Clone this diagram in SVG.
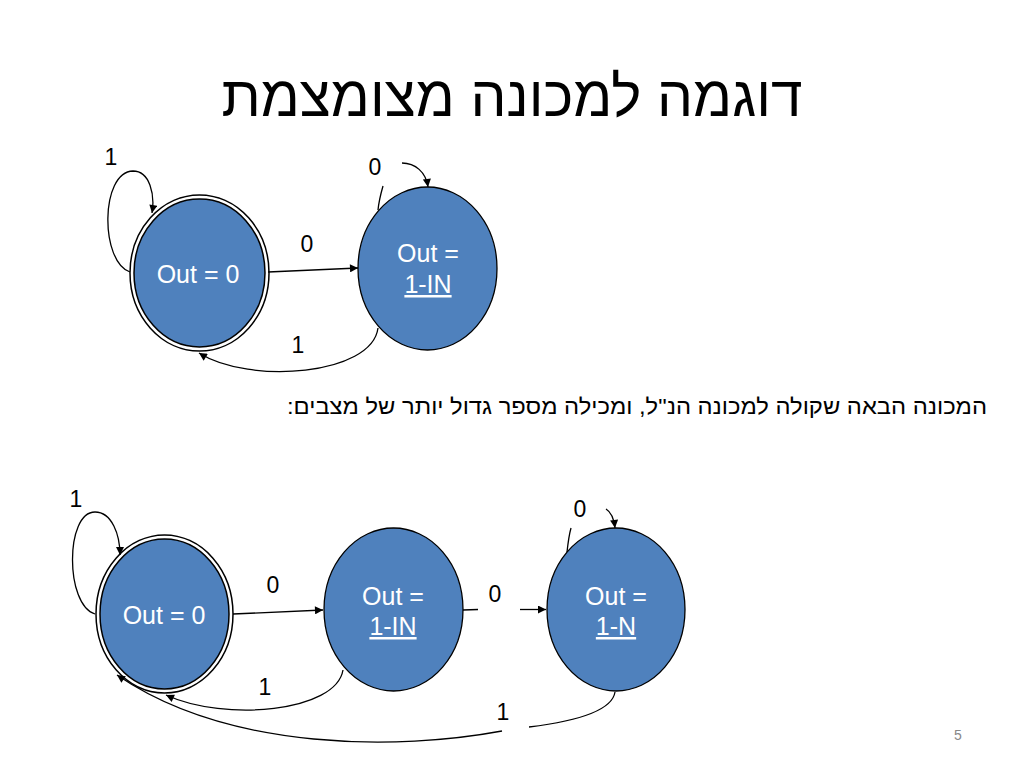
<svg xmlns="http://www.w3.org/2000/svg" width="1024" height="768" viewBox="0 0 1024 768">
<defs>
<style>
.st{fill:#4F81BD;stroke:#000;stroke-width:1.3}
.ring{fill:#fff;stroke:#000;stroke-width:1.5}
.in{fill:#4F81BD;stroke:#000;stroke-width:1.5}
.nt{font-family:"Liberation Sans",Arial,sans-serif;font-size:25px;fill:#fff;text-anchor:middle}
.u{text-decoration:underline}
.e{fill:none;stroke:#000;stroke-width:1.3}
.lb{font-family:"Liberation Sans",Arial,sans-serif;font-size:23px;fill:#000;text-anchor:middle}
.heb{font-family:"Liberation Sans","DejaVu Sans",Arial,sans-serif;fill:#000;text-anchor:middle}
</style>
<marker id="ah" viewBox="0 0 10 10" refX="10" refY="5" markerWidth="9" markerHeight="8" markerUnits="userSpaceOnUse" orient="auto">
<path d="M0,0 L10,5 L0,10 z" fill="#000"/>
</marker>
</defs>
<rect width="1024" height="768" fill="#fff"/>
<text class="heb" x="512" y="116" font-size="57" direction="rtl" textLength="581" lengthAdjust="spacingAndGlyphs">דוגמה למכונה מצומצמת</text>
<text class="heb" x="637" y="414" font-size="22.5" direction="rtl" textLength="700" lengthAdjust="spacingAndGlyphs">המכונה הבאה שקולה למכונה הנ"ל, ומכילה מספר גדול יותר של מצבים:</text>
<text x="958" y="740" font-family="Liberation Sans,Arial,sans-serif" font-size="14" fill="#888" text-anchor="middle">5</text>

<g id="top-s0">
<ellipse class="ring" cx="199.5" cy="273" rx="69.5" ry="78"/>
<ellipse class="in" cx="199.5" cy="273" rx="65.5" ry="74"/>
<text class="nt" x="198" y="283">Out = 0</text>
</g>
<g id="top-s1">
<ellipse class="st" cx="427.5" cy="268.5" rx="69.5" ry="81.5"/>
<text class="nt" x="428" y="262">Out =</text>
<text class="nt u" x="428" y="293">1-IN</text>
</g>

<g id="bot-s0">
<ellipse class="ring" cx="164.5" cy="614" rx="68.5" ry="79"/>
<ellipse class="in" cx="164.5" cy="614" rx="64.5" ry="75"/>
<text class="nt" x="164" y="624">Out = 0</text>
</g>
<g id="bot-s1">
<ellipse class="st" cx="393.5" cy="609.5" rx="69.5" ry="81.5"/>
<text class="nt" x="393" y="605">Out =</text>
<text class="nt u" x="393" y="635">1-IN</text>
</g>
<g id="bot-s2">
<ellipse class="st" cx="616" cy="609.5" rx="69" ry="81.5"/>
<text class="nt" x="616" y="605">Out =</text>
<text class="nt u" x="616" y="635">1-N</text>
</g>

<g id="connectors">
<path class="e" d="M130,272 C100,262 100,172 133,171 C150,171 155,195 152,213" marker-end="url(#ah)"/>
<path class="e" d="M268,272 L358,268" marker-end="url(#ah)"/>
<path class="e" d="M378,210 C379,200 381,193 383,186"/>
<path class="e" d="M402,163 C415,163 426,172 428,187" marker-end="url(#ah)"/>
<path class="e" d="M378,328 C372,375 250,385 199,353" marker-end="url(#ah)"/>
<path class="e" d="M95,614 C65,605 65,512 95,512 C112,512 120,535 120,555" marker-end="url(#ah)"/>
<path class="e" d="M233,614 L323,610" marker-end="url(#ah)"/>
<path class="e" d="M463,610 L478,609.5"/>
<path class="e" d="M520,609.5 L546,609.5" marker-end="url(#ah)"/>
<path class="e" d="M567,552 C568,543 569,535 571,528"/>
<path class="e" d="M606,509 C611,512 614,519 615,528" marker-end="url(#ah)"/>
<path class="e" d="M343,670 C336,712 225,722 166,695" marker-end="url(#ah)"/>
<path class="e" d="M615,692 C612,712 570,722 529,727"/>
<path class="e" d="M502,731 C400,750 230,752 117,675" marker-end="url(#ah)"/>
</g>

<g id="labels">
<text class="lb" x="111" y="165">1</text>
<text class="lb" x="307" y="252">0</text>
<text class="lb" x="375" y="175">0</text>
<text class="lb" x="298" y="353">1</text>
<text class="lb" x="76" y="507">1</text>
<text class="lb" x="273" y="593">0</text>
<text class="lb" x="495" y="602">0</text>
<text class="lb" x="580" y="517">0</text>
<text class="lb" x="265" y="695">1</text>
<text class="lb" x="503" y="720">1</text>
</g>
</svg>
